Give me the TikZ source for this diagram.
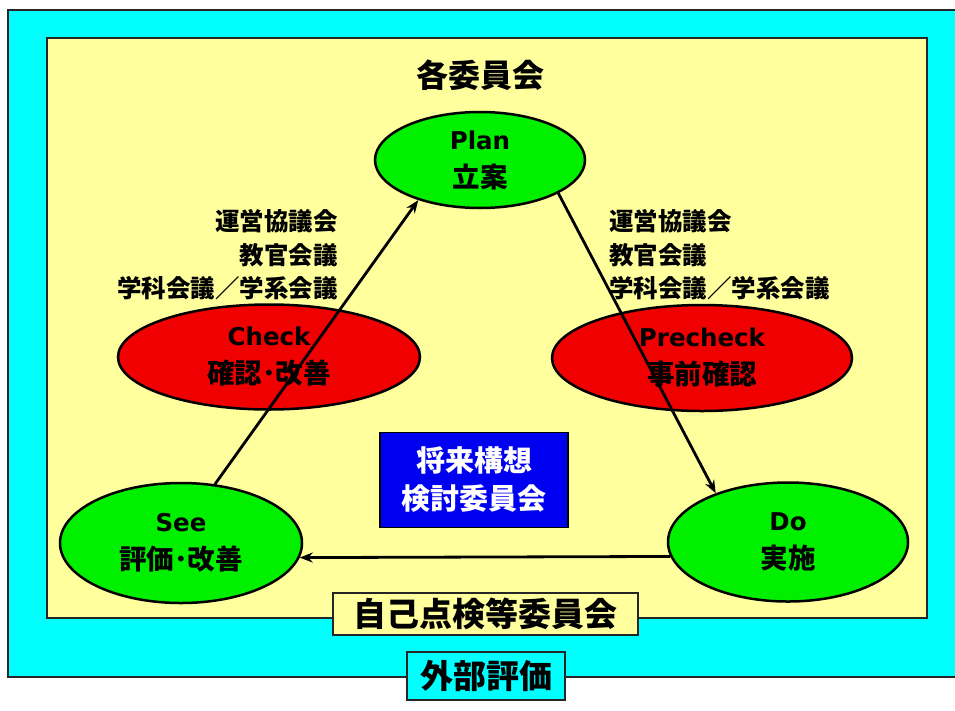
\documentclass[tikz,border=0pt]{standalone}
\usepackage{fontspec}
\setmainfont{DejaVu Sans}
\newfontfamily\jpfam{Noto Sans CJK JP}
\usetikzlibrary{shapes.geometric,arrows.meta}
\definecolor{paleyellow}{HTML}{FFFF9E}
\definecolor{cyanbg}{HTML}{00FFFF}
\definecolor{greenfill}{HTML}{00F000}
\definecolor{redfill}{HTML}{F00000}
\definecolor{bluefill}{HTML}{0000F0}
\newcommand\jpsz[2]{\jpfam\bfseries\fontsize{#1}{#2}\selectfont}
\newcommand\jpb{\jpsz{27.5}{38}}
\begin{document}
\begin{tikzpicture}[x=1pt,y=-1pt,
  frame/.style={draw=black!85,line width=1.8pt},
  ellbase/.style={ellipse,draw=black,line width=2.5pt,inner sep=0pt,align=center,
    font=\bfseries\fontsize{24.5}{38}\selectfont},
  greenell/.style={ellbase,fill=greenfill},
  redell/.style={ellbase,fill=redfill},
  lbl/.style={font={\jpsz{24.5}{33.5}},inner sep=0pt},
  flow/.style={line width=2.8pt,-{Stealth[length=13pt,width=10pt]}},
  titlebox/.style={draw=black!85,line width=1.8pt,inner sep=0pt,font={\jpsz{33}{38}}}
]
\useasboundingbox (0,0) rectangle (955,710);
\fill[white] (0,0) rectangle (955,710);
\draw[frame,fill=cyanbg] (8,10) rectangle (965,677);
\draw[frame,fill=paleyellow] (47,38) rectangle (927,618);

\node[font={\jpsz{32}{38}}] (title) at (480,75) {各委員会};

\node[greenell,minimum width=210pt,minimum height=96pt] (plan) at (480,160) {Plan\\\jpb 立案};
\node[redell,minimum width=302pt,minimum height=105pt] (check) at (269,357) {Check\\\jpb 確認･改善};
\node[redell,minimum width=300pt,minimum height=106pt] (pre) at (702,358) {Precheck\\\jpb 事前確認};
\node[greenell,minimum width=242pt,minimum height=120pt] (see) at (181,543) {See\\\jpb 評価･改善};
\node[greenell,minimum width=240pt,minimum height=119pt] (do) at (788,542) {Do\\\jpb 実施};

\node[lbl,anchor=east,align=right] (lleft) at (338,255) {運営協議会\\教官会議\\学科会議／学系会議};
\node[lbl,anchor=west,align=left] (lright) at (609,255) {運営協議会\\教官会議\\学科会議／学系会議};

\node[draw=black,line width=1.5pt,fill=bluefill,text=white,minimum width=188pt,minimum height=95pt,
  inner sep=0pt,align=center,font={\jpsz{29}{38}}] (future) at (474,480) {将来構想\\検討委員会};

\draw[flow] (see.60) -- (plan.213);
\draw[flow] (plan.-23) -- (do.146);
\draw[flow] (do.187) -- (see.-7);

\node[titlebox,fill=paleyellow,minimum width=305pt,minimum height=42pt] (self) at (485.5,614) {自己点検等委員会};
\node[titlebox,fill=cyanbg,minimum width=158pt,minimum height=48pt] (ext) at (486,676) {外部評価};
\end{tikzpicture}
\end{document}
